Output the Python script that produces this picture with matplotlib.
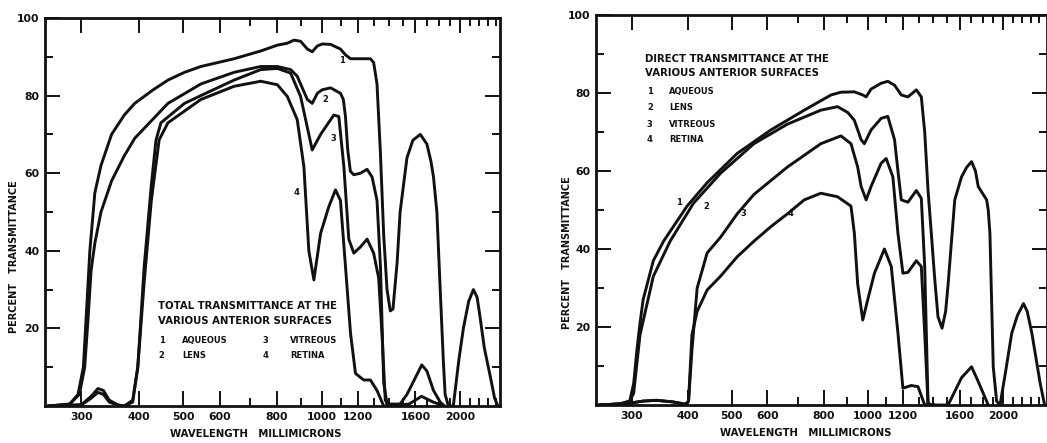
"""Transmittance of the ocular media: total and direct, two panels."""

from matplotlib import pyplot as plt
from matplotlib.ticker import FixedLocator, NullFormatter

# ---- total transmittance (left panel), wavelength in millimicrons / percent
tot_wl_1 = [255, 283, 295, 303, 308, 313, 321, 331, 349, 372, 392, 430, 463, 503, 546, 645, 737,
            801, 842, 871, 900, 931, 954, 979, 1003, 1046, 1099, 1127, 1156, 1215, 1277, 1298,
            1320, 1343, 1365, 1388, 1411, 1430, 1460, 1482, 1534, 1580, 1640, 1695, 1730, 1752,
            1782, 1812, 1840, 1857, 1888, 1935, 1990, 2035, 2090, 2140, 2180, 2212, 2260, 2325,
            2380, 2420]
tot_pc_1 = [0, 0.5, 3, 10, 25, 40, 55, 62, 70, 75, 78, 81.5, 84, 86, 87.5, 89.5, 91.5,
            93, 93.5, 94.3, 94, 92, 91.3, 92.8, 93.3, 93.2, 92, 90.5, 89.5, 89.5, 89.5, 88.5,
            83, 65, 44, 30, 24.5, 25, 37, 50, 64, 68.5, 70, 67.5, 63, 59,
            50, 30, 12, 3, 0, 0, 12, 20, 27, 30, 28, 23, 15, 8,
            2, 0]

tot_wl_2 = [255, 283, 297, 305, 310, 315, 321, 331, 349, 372, 392, 430, 463, 503, 546, 645, 737,
            801, 856, 885, 900, 931, 954, 979, 1003, 1046, 1099, 1115, 1127, 1140, 1155, 1175,
            1215, 1256, 1288, 1320, 1343, 1365, 1388, 1482, 1534, 1580, 1652, 1695, 1752, 1812,
            1850]
tot_pc_2 = [0, 0.5, 3, 10, 22, 35, 42, 50, 58, 64.5, 69, 74, 78, 80.5, 83, 86, 87.5,
            87.5, 86.7, 85, 83, 79, 78, 80.6, 81.5, 82, 80.6, 79, 74.6, 66, 60.5, 59.6,
            60, 61, 59, 53, 36, 6, 0.5, 0.5, 3, 6, 10.6, 9, 4, 1,
            0]

tot_wl_3 = [255, 300, 315, 326, 335, 345, 360, 372, 388, 398, 411, 426, 436, 447, 503, 546, 645,
            737, 801, 856, 900, 938, 954, 995, 1063, 1090, 1118, 1146, 1175, 1215, 1256, 1298,
            1331, 1353, 1376, 1400, 1550, 1650, 1750, 1850]
tot_pc_3 = [0, 0.3, 2.5, 4.5, 4, 1.5, 0.3, 0, 1.5, 10, 36, 57, 68.5, 73, 78, 80, 84,
            86.7, 87, 85.8, 79.8, 70, 66, 70, 75, 74.6, 61.7, 43, 39.4, 41, 43, 39.4,
            33, 18.7, 1.5, 0, 0.5, 2.5, 1, 0]

tot_wl_4 = [255, 300, 315, 326, 335, 345, 360, 372, 388, 398, 411, 426, 443, 463, 546, 645, 737,
            801, 842, 885, 915, 938, 962, 995, 1037, 1072, 1099, 1127, 1156, 1185, 1235, 1277,
            1320, 1365, 1400]
tot_pc_4 = [0, 0.3, 2, 3.5, 3, 1, 0.2, 0, 1, 10, 32, 53, 68.6, 73, 79, 82.4, 83.7,
            82.8, 79.8, 73.8, 61.7, 40, 32.5, 44.5, 51.4, 55.7, 53, 36, 18.7, 8.4, 6.7, 6.7,
            4, 0, 0]

# ---- direct transmittance (right panel)
dir_wl_1 = [255, 283, 297, 303, 308, 313, 318, 335, 353, 398, 441, 514, 610, 724, 830, 873,
            935, 976, 993, 1018, 1072, 1109, 1148, 1188, 1229, 1283, 1316, 1339, 1362, 1385,
            1410, 1433, 1463, 1490, 1509, 1561, 1616, 1660, 1701, 1735, 1760, 1837, 1852, 1868,
            1900, 1933, 1967, 2020, 2088, 2150, 2217, 2260, 2314, 2415, 2470]
dir_pc_1 = [0, 0.3, 1, 5.5, 14, 21, 27, 37, 42, 51, 57, 64.5, 70.5, 75.6, 79.5, 80.2,
            80.3, 79.5, 79, 81, 82.5, 83, 82, 79.5, 79, 80.8, 79, 70, 55, 44,
            32, 22.6, 19.7, 24, 31, 52.6, 58.5, 61, 62.4, 60, 56, 52.6, 50, 44,
            9.8, 1, 0, 8, 18.4, 23, 26, 24, 18.4, 5.5, 0]

dir_wl_2 = [255, 283, 297, 303, 313, 335, 365, 411, 472, 560, 664, 788, 858, 904, 935, 968,
            984, 1018, 1072, 1109, 1148, 1168, 1188, 1229, 1283, 1316, 1339, 1362, 1385, 1509,
            1616, 1701, 1760, 1790, 1852]
dir_pc_2 = [0, 0.3, 1, 3, 18, 33, 42, 51.7, 59.4, 67, 72, 75.6, 76.5, 75, 73, 68,
            67, 70.5, 73.5, 74, 68, 60, 52.6, 52, 55, 53, 35.5, 0.5, 0, 0,
            7, 9.8, 6, 4, 0]

dir_wl_3 = [255, 290, 318, 340, 370, 395, 401, 408, 419, 441, 472, 514, 560, 664, 788, 873,
            919, 951, 968, 993, 1018, 1072, 1100, 1138, 1168, 1198, 1229, 1283, 1316, 1339,
            1362, 1400]
dir_pc_3 = [0, 0.3, 1, 1.2, 0.8, 0.2, 1, 14, 30, 39, 43, 49, 54, 61, 67, 69,
            67, 61, 56, 52.6, 56, 62, 63.2, 58.5, 44, 33.8, 34, 37, 35.5, 18.4,
            0, 0]

dir_wl_4 = [255, 290, 318, 340, 370, 395, 401, 408, 419, 441, 472, 514, 560, 610, 664, 724,
            788, 858, 919, 935, 951, 976, 1001, 1036, 1090, 1129, 1168, 1198, 1250, 1294,
            1339, 1400]
dir_pc_4 = [0, 0.3, 1, 1.2, 0.8, 0.2, 1, 18, 24, 29.5, 33, 38, 42, 45.7, 49, 52.6,
            54.3, 53.4, 51, 44, 31, 21.8, 27, 33.8, 40, 35.5, 18.4, 4.3, 5, 4.7,
            0, 0]

# ---- axis text
wl_major = [300, 400, 500, 600, 800, 1000, 1200, 1600, 2000]
wl_minor = [700, 900, 1100, 1300, 1400, 1500, 1700, 1800, 1900, 2100, 2200, 2300, 2400]
pct_major = [20, 40, 60, 80, 100]
pct_minor = [10, 30, 50, 70, 90]
legend_names = ["AQUEOUS", "LENS", "VITREOUS", "RETINA"]

INK = "#111111"
FONT = "DejaVu Sans"

fig = plt.figure(figsize=(10.47, 4.43), dpi=100)
ax_tot = fig.add_axes([45 / 1047, 1 - 406 / 443, 455 / 1047, 388 / 443])
ax_dir = fig.add_axes([596 / 1047, 1 - 405 / 443, 451 / 1047, 390 / 443])


def style_axes(ax, xmax, ylabel_x, ylabel_y):
    ax.set_xscale("log")
    ax.set_xlim(250, xmax)
    ax.set_ylim(0, 100)
    ax.xaxis.set_major_locator(FixedLocator(wl_major))
    ax.xaxis.set_minor_locator(FixedLocator(wl_minor))
    ax.set_xticklabels([str(v) for v in wl_major])
    ax.xaxis.set_minor_formatter(NullFormatter())
    ax.yaxis.set_major_locator(FixedLocator(pct_major))
    ax.yaxis.set_minor_locator(FixedLocator(pct_minor))
    ax.tick_params(which="both", direction="in", top=True, right=True, color=INK,
                   labelsize=7.8, labelcolor=INK, pad=4)
    ax.tick_params(which="major", length=11, width=1.4)
    ax.tick_params(which="minor", length=6, width=1.4)
    for lab in ax.get_xticklabels() + ax.get_yticklabels():
        lab.set_family(FONT)
        lab.set_weight("bold")
    for sp in ax.spines.values():
        sp.set_linewidth(2.0)
        sp.set_color(INK)
    ax.set_xlabel("WAVELENGTH   MILLIMICRONS", fontsize=7.3, fontweight="bold",
                  family=FONT, color=INK)
    ax.xaxis.set_label_coords(0.464, -0.06)
    ax.set_ylabel("PERCENT   TRANSMITTANCE", fontsize=7, fontweight="bold",
                  family=FONT, color=INK)
    ax.yaxis.set_label_coords(ylabel_x, ylabel_y)


style_axes(ax_tot, 2445, -0.057, 0.384)
style_axes(ax_dir, 2500, -0.053, 0.39)

for wl, pc in [(tot_wl_1, tot_pc_1), (tot_wl_2, tot_pc_2), (tot_wl_3, tot_pc_3), (tot_wl_4, tot_pc_4)]:
    ax_tot.plot(wl, pc, color=INK, lw=2.1, solid_joinstyle="round")
for wl, pc in [(dir_wl_1, dir_pc_1), (dir_wl_2, dir_pc_2), (dir_wl_3, dir_pc_3), (dir_wl_4, dir_pc_4)]:
    ax_dir.plot(wl, pc, color=INK, lw=2.1, solid_joinstyle="round")

small = dict(fontsize=6, fontweight="bold", family=FONT, color=INK, va="center")

# curve numbers
for txt, x, y in [("1", 1110, 89), ("2", 1020, 79), ("3", 1060, 69), ("4", 880, 55)]:
    ax_tot.text(x, y, txt, ha="center", **small)
for txt, x, y in [("1", 382, 52), ("2", 440, 51), ("3", 530, 49), ("4", 675, 49)]:
    ax_dir.text(x, y, txt, ha="center", **small)

# left panel legend block
head = dict(fontsize=7.3, fontweight="bold", family=FONT, color=INK, va="center")
ax_tot.text(0.248, 0.258, "TOTAL TRANSMITTANCE AT THE", transform=ax_tot.transAxes, **head)
ax_tot.text(0.248, 0.219, "VARIOUS ANTERIOR SURFACES", transform=ax_tot.transAxes, **head)
for y, i in [(0.170, 0), (0.131, 1)]:
    ax_tot.text(0.250, y, str(i + 1), transform=ax_tot.transAxes, **small)
    ax_tot.text(0.301, y, legend_names[i], transform=ax_tot.transAxes, **small)
    ax_tot.text(0.479, y, str(i + 3), transform=ax_tot.transAxes, **small)
    ax_tot.text(0.538, y, legend_names[i + 2], transform=ax_tot.transAxes, **small)

# right panel legend block
ax_dir.text(0.109, 0.887, "DIRECT TRANSMITTANCE AT THE", transform=ax_dir.transAxes, **head)
ax_dir.text(0.109, 0.851, "VARIOUS ANTERIOR SURFACES", transform=ax_dir.transAxes, **head)
for i, y in enumerate([0.805, 0.764, 0.720, 0.682]):
    ax_dir.text(0.113, y, str(i + 1), transform=ax_dir.transAxes, **small)
    ax_dir.text(0.162, y, legend_names[i], transform=ax_dir.transAxes, **small)

fig.savefig("out.png", dpi=100, facecolor="white")
